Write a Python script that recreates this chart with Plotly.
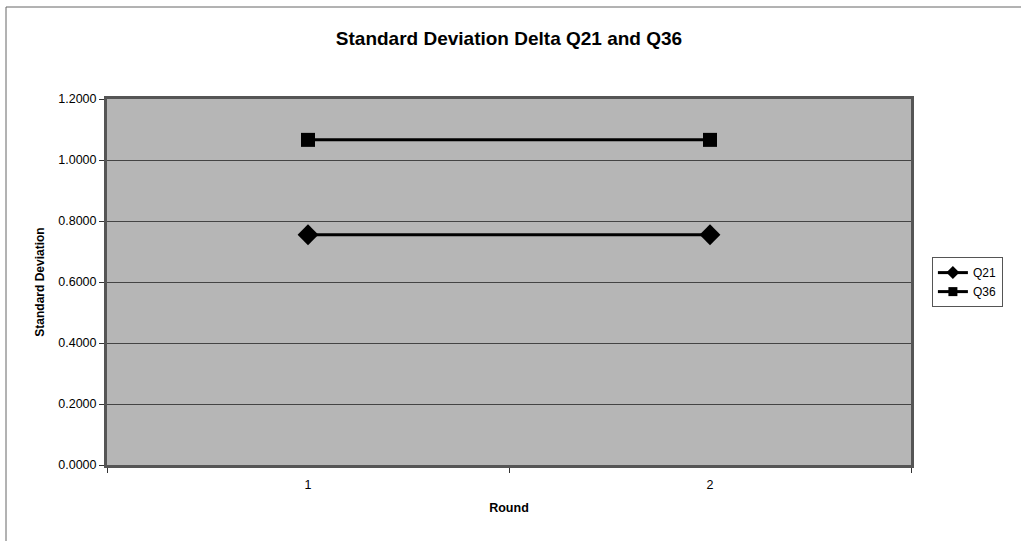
import plotly.graph_objects as go

rounds = ["1", "2"]
q21 = [0.755, 0.755]
q36 = [1.066, 1.066]
y_ticks = [0.0, 0.2, 0.4, 0.6, 0.8, 1.0, 1.2]

font = "Arial, Liberation Sans, sans-serif"

fig = go.Figure()
fig.add_trace(go.Scatter(
    x=rounds, y=q21, name="Q21", mode="lines+markers", showlegend=False,
    line=dict(color="black", width=3),
    marker=dict(symbol="diamond", size=16, color="black"),
))
fig.add_trace(go.Scatter(
    x=rounds, y=q36, name="Q36", mode="lines+markers", showlegend=False,
    line=dict(color="black", width=3),
    marker=dict(symbol="square", size=14, color="black"),
))
# legend entries with the smaller legend symbols
fig.add_trace(go.Scatter(
    x=[None], y=[None], name="Q21", mode="lines+markers",
    line=dict(color="black", width=3),
    marker=dict(symbol="diamond", size=10, color="black"),
))
fig.add_trace(go.Scatter(
    x=[None], y=[None], name="Q36", mode="lines+markers",
    line=dict(color="black", width=3),
    marker=dict(symbol="square", size=9, color="black"),
))

fig.update_layout(
    width=1021, height=541,
    margin=dict(l=107, r=110, t=99, b=76),
    paper_bgcolor="white",
    plot_bgcolor="#b6b6b6",
    title=dict(text="<b>Standard Deviation Delta Q21 and Q36</b>",
               x=(107 + 911) / 2 / 1021, xanchor="center",
               y=1 - 38 / 541, yanchor="middle",
               font=dict(family=font, size=19, color="black")),
    font=dict(family=font, size=12, color="black"),
    showlegend=True,
    legend=dict(x=1.026, xanchor="left", y=0.568, yanchor="top",
                bgcolor="white", bordercolor="#555555", borderwidth=1,
                font=dict(family=font, size=12, color="black"),
                tracegroupgap=0, itemwidth=30),
    shapes=[dict(type="rect", xref="paper", yref="paper",
                 x0=-101 / 804, x1=1.3, y0=-0.5, y1=1 + 92 / 366,
                 line=dict(color="#666666", width=1), fillcolor="rgba(0,0,0,0)",
                 layer="below")],
)

fig.update_xaxes(
    type="category", range=[-0.5, 1.5],
    tickson="boundaries", ticks="outside", ticklen=5, tickcolor="#333333",
    showgrid=False, zeroline=False,
    showline=True, linecolor="#555555", linewidth=3, mirror=True,
    title=dict(text="<b>Round</b>", font=dict(family=font, size=12.5), standoff=13),
    tickfont=dict(family=font, size=12.5),
    ticklabelstandoff=6,
)
fig.update_yaxes(
    range=[0, 1.2], tickvals=y_ticks, tickformat=".4f",
    ticks="outside", ticklen=5, tickcolor="#333333",
    showgrid=True, gridcolor="#444444", gridwidth=1,
    zeroline=False,
    showline=True, linecolor="#555555", linewidth=3, mirror=True,
    title=dict(text="<b>Standard Deviation</b>", font=dict(family=font, size=12), standoff=12),
    tickfont=dict(family=font, size=12.5),
)

fig.write_html("out.html")
